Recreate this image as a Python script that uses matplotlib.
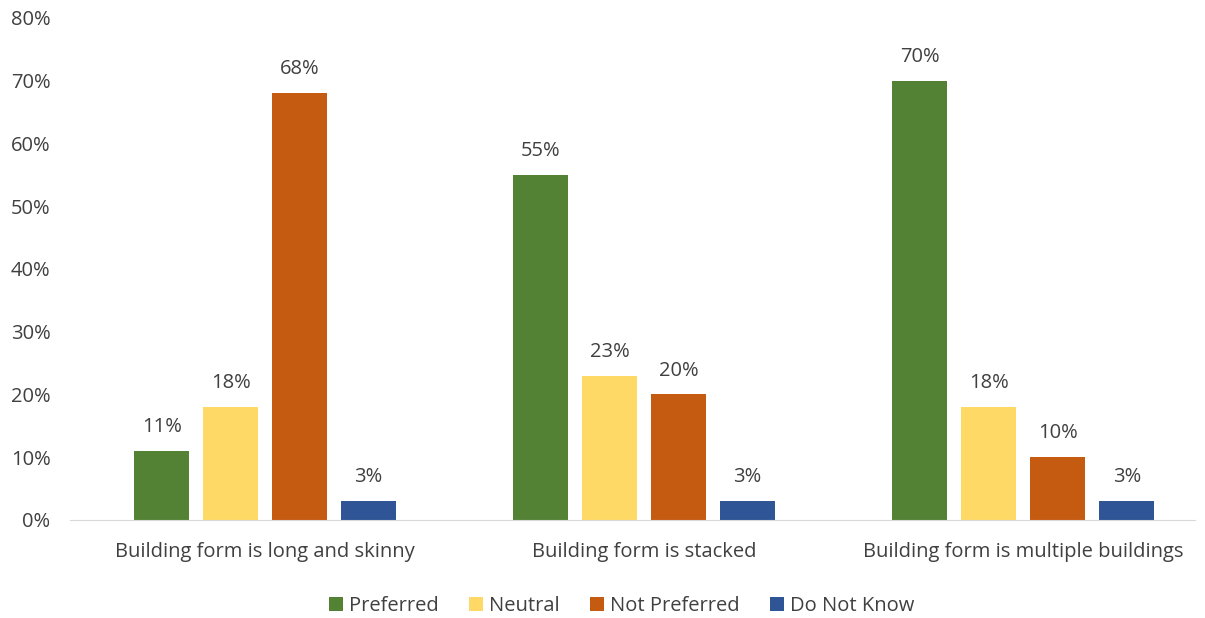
import numpy as np
import matplotlib.pyplot as plt

plt.rcParams['font.family'] = ['Open Sans', 'DejaVu Sans']

categories = ['Building form is long and skinny', 'Building form is stacked',
              'Building form is multiple buildings']
series = ['Preferred', 'Neutral', 'Not Preferred', 'Do Not Know']
preferred = [11, 55, 70]
neutral = [18, 23, 18]
not_preferred = [68, 20, 10]
do_not_know = [3, 3, 3]
values = [preferred, neutral, not_preferred, do_not_know]
colors = ['#548235', '#FFD966', '#C55A11', '#2F5597']

txt = '#404040'
fig = plt.figure(figsize=(12.05, 6.18), dpi=100)
ax = fig.add_axes([0.058, 0.1586, 0.934, 0.8123])

ind = np.arange(len(categories))
step = 0.182
width = 0.145
for i, (name, vals, c) in enumerate(zip(series, values, colors)):
    rects = ax.bar(ind + (i - 1.5) * step, vals, width, color=c, label=name)
    for r, v in zip(rects, vals):
        ax.text(r.get_x() + r.get_width() / 2, v + 2.2, f'{v}%',
                ha='center', va='bottom', fontsize=14.5, color=txt)

ax.set_xlim(-0.515, 2.454)
ax.set_ylim(0, 80)
ax.set_yticks(np.arange(0, 81, 10))
ax.set_yticklabels([f'{t}%' for t in range(0, 81, 10)], fontsize=14.5, color=txt)
ax.set_xticks(ind)
ax.set_xticklabels(categories, fontsize=14.5, color=txt)
ax.tick_params(axis='x', length=0, pad=16)
ax.tick_params(axis='y', length=0, pad=14)
for s in ['top', 'right', 'left']:
    ax.spines[s].set_visible(False)
ax.spines['bottom'].set_color('#D9D9D9')

fig.legend(loc='center', bbox_to_anchor=(0.516, 0.02), ncol=4, frameon=False,
           fontsize=14.5, labelcolor=txt, handlelength=0.7, handleheight=0.7,
           handletextpad=0.3, columnspacing=1.5)

fig.savefig('out.png', dpi=100)
